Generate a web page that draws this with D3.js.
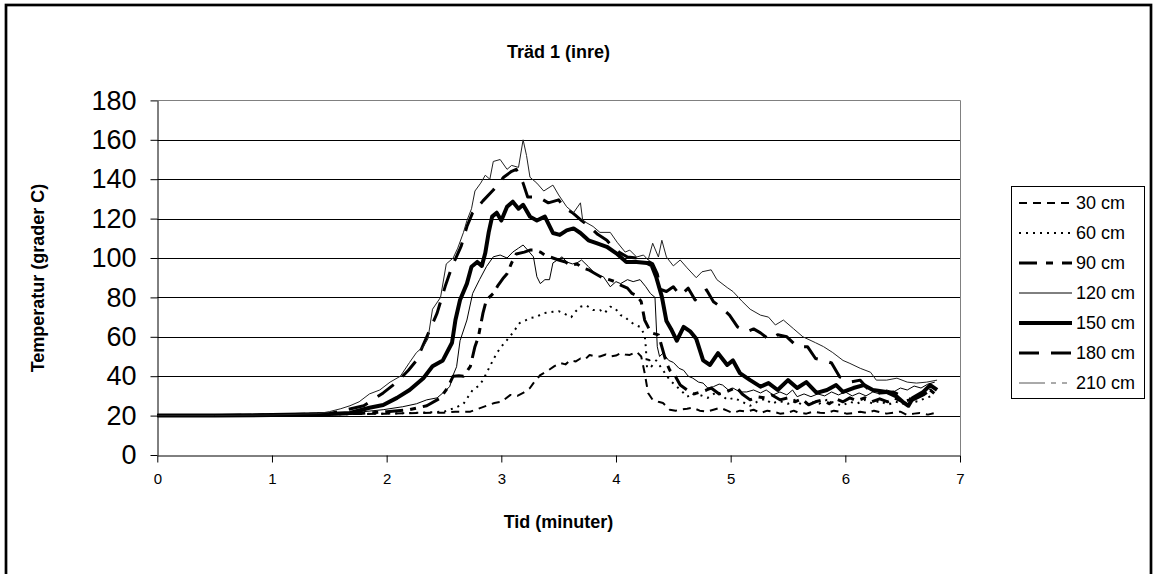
<!DOCTYPE html>
<html>
<head>
<meta charset="utf-8">
<script src="https://cdn.jsdelivr.net/npm/d3@7"></script>
<style>
  html, body { margin: 0; padding: 0; background: #fff; }
  svg { display: block; font-family: "Liberation Sans", Arial, sans-serif; }
</style>
</head>
<body>
<div id="chart"></div>
<script>
// Temperature at seven heights in tree 1.
// Each series is a list of [minutes, degrees C] pairs.
const s30 = [[0,20],[0.5,20],[1,20.3],[1.5,20.6],[2,21],[2.3,21.3],[2.5,21.5],[2.6,22],[2.73,22],[2.8,23.5],[2.87,25],[2.94,26.4],[3.0,27],[3.08,30.5],[3.14,30],[3.19,31.5],[3.25,34],[3.28,36.5],[3.34,40.6],[3.41,43],[3.46,45],[3.51,46.7],[3.56,46],[3.6,48],[3.65,47.5],[3.69,49],[3.73,48.5],[3.77,50.8],[3.82,50],[3.86,50],[3.91,51],[3.95,50],[4.0,50.5],[4.04,51.7],[4.08,51],[4.12,50.8],[4.18,52.4],[4.22,50],[4.25,41.6],[4.28,31.5],[4.32,28],[4.37,27],[4.41,26.4],[4.47,23],[4.52,22.5],[4.56,23],[4.62,23.5],[4.67,24],[4.73,22.5],[4.79,22],[4.85,23],[4.91,24],[4.97,22.5],[5.02,21.3],[5.08,22.5],[5.14,22],[5.2,23],[5.26,21.3],[5.32,22.5],[5.37,22],[5.43,21],[5.49,21.3],[5.55,22.5],[5.6,21.3],[5.66,21],[5.72,22],[5.78,21.5],[5.84,21.3],[5.9,22.5],[5.95,22],[6.01,21],[6.07,21.3],[6.13,22],[6.19,21.3],[6.25,22.5],[6.3,21.8],[6.36,21],[6.42,21.5],[6.48,22],[6.54,20.3],[6.6,21],[6.65,21.3],[6.72,20.5],[6.78,21.3]];

const s60 = [[0,20],[0.5,20],[1,20.3],[1.5,20.6],[2,21],[2.3,21.5],[2.5,22],[2.6,24],[2.67,26],[2.75,33],[2.8,35],[2.84,38],[2.9,45],[2.96,51.7],[3.0,55],[3.05,58.4],[3.1,62],[3.16,67],[3.2,68],[3.25,69.5],[3.3,70],[3.37,72],[3.45,72.7],[3.5,73],[3.54,72],[3.61,70],[3.65,73],[3.69,75.3],[3.74,76],[3.8,73.6],[3.86,73.6],[3.9,72],[3.95,75.3],[3.99,74.6],[4.04,71],[4.08,70],[4.12,67.7],[4.17,66],[4.21,65],[4.25,61],[4.26,55],[4.27,45],[4.28,50],[4.31,45],[4.35,48],[4.41,43],[4.47,38],[4.53,34.7],[4.58,32],[4.62,29.6],[4.68,31],[4.73,30.5],[4.8,29],[4.88,32],[4.93,30],[4.97,28],[5.03,29],[5.1,27],[5.17,25],[5.23,27],[5.3,28.5],[5.36,26],[5.42,27.5],[5.5,26],[5.56,28],[5.62,25.5],[5.7,27],[5.77,26],[5.84,28],[5.9,26.5],[5.97,25],[6.04,27],[6.1,26],[6.17,28],[6.24,26],[6.3,27.5],[6.37,25.5],[6.44,27],[6.5,26],[6.57,28],[6.63,27],[6.7,29],[6.76,30]];

const s90 = [[0,20],[0.5,20],[1,20.3],[1.5,20.8],[1.8,21.2],[2,22],[2.2,23],[2.35,25],[2.47,29],[2.53,34],[2.58,40],[2.63,40.2],[2.67,40],[2.73,45],[2.77,55],[2.8,60],[2.84,72],[2.87,78.7],[2.93,82],[2.97,86],[3.02,90],[3.05,92],[3.09,97.5],[3.13,102],[3.2,103],[3.25,104],[3.3,104],[3.34,103],[3.38,101.5],[3.45,100],[3.5,99],[3.56,98],[3.6,96.4],[3.66,97],[3.71,95],[3.76,94],[3.82,92],[3.88,90],[3.94,89],[3.99,88],[4.05,86],[4.1,84.7],[4.14,82],[4.18,81],[4.22,77.8],[4.25,68.5],[4.28,65],[4.31,62],[4.37,61],[4.39,57],[4.44,46.7],[4.47,43],[4.52,39.7],[4.56,35.5],[4.62,33],[4.68,31],[4.74,32],[4.79,33],[4.83,34],[4.9,31],[4.96,32],[5.0,33],[5.05,34.5],[5.1,31],[5.17,28],[5.24,29.5],[5.3,29],[5.36,30.5],[5.43,28],[5.5,29],[5.56,27],[5.62,28.5],[5.68,25.5],[5.74,27],[5.8,28],[5.86,26],[5.92,28.5],[5.98,27],[6.04,29],[6.1,27.5],[6.17,29],[6.23,27],[6.3,28.5],[6.37,27],[6.43,29],[6.5,27],[6.56,28],[6.62,29.5],[6.68,31],[6.74,33],[6.78,31]];

const s120 = [[0,20],[0.5,20],[1,20.3],[1.5,20.8],[1.8,22],[1.97,23],[2.14,24.5],[2.26,26],[2.35,28],[2.44,29],[2.49,31.5],[2.55,34.7],[2.58,40.6],[2.61,44.8],[2.64,58],[2.7,68.5],[2.75,82],[2.81,89],[2.87,95.6],[2.93,100.6],[2.99,101.5],[3.05,100],[3.1,103],[3.15,105],[3.19,106.6],[3.23,104],[3.28,100.6],[3.31,90.5],[3.34,87],[3.38,89],[3.42,89],[3.45,97.5],[3.49,99],[3.53,100.6],[3.57,98],[3.62,97],[3.66,97.5],[3.7,99],[3.76,95.6],[3.83,91.4],[3.89,90.5],[3.95,85.4],[4.0,88],[4.04,87],[4.1,89],[4.15,88],[4.21,89],[4.26,85.4],[4.3,82],[4.34,80],[4.36,55],[4.38,50],[4.41,51.7],[4.46,48],[4.5,47],[4.55,44],[4.59,43],[4.63,40],[4.67,39],[4.72,37],[4.76,36.5],[4.8,34],[4.85,34.7],[4.9,36],[4.93,35.5],[4.98,33],[5.02,34],[5.08,32],[5.14,32],[5.2,33],[5.26,31.5],[5.31,33],[5.37,30.5],[5.43,32],[5.49,30.5],[5.54,33],[5.58,29.6],[5.64,31],[5.7,29.6],[5.76,31],[5.82,30],[5.88,32],[5.94,30.5],[6.0,32],[6.06,30],[6.12,31.5],[6.18,30],[6.24,32],[6.3,31],[6.36,33],[6.42,32],[6.48,34],[6.54,33],[6.6,35],[6.66,34],[6.72,36],[6.78,37]];

const s150 = [[0,20],[0.5,20],[1,20.3],[1.5,20.8],[1.68,21.3],[1.85,24],[1.97,25.4],[2.09,29],[2.2,33],[2.32,39],[2.4,45],[2.49,48],[2.57,57],[2.6,68.5],[2.64,78.7],[2.7,87],[2.74,95.6],[2.79,98],[2.83,96],[2.86,102.5],[2.89,113],[2.92,121],[2.96,123],[3.0,119],[3.05,126],[3.1,128.6],[3.15,125],[3.19,127],[3.25,121],[3.31,119],[3.38,121],[3.45,112.7],[3.51,111.7],[3.57,114],[3.63,115],[3.69,112.7],[3.76,109],[3.83,107.6],[3.92,105.7],[4.0,102.5],[4.09,98],[4.18,98],[4.27,97.5],[4.31,96.4],[4.35,90.5],[4.4,80.4],[4.44,68],[4.48,64],[4.53,58],[4.59,65],[4.65,62.6],[4.7,59],[4.76,48],[4.82,45.7],[4.89,51.7],[4.97,45.7],[5.02,48],[5.08,41.6],[5.17,38],[5.26,34.7],[5.33,36.5],[5.41,33],[5.5,38],[5.58,34],[5.66,37],[5.75,31.5],[5.84,33],[5.92,35.5],[5.98,32],[6.07,34],[6.16,35.5],[6.24,33],[6.36,32],[6.45,29.6],[6.5,27],[6.55,25],[6.59,29],[6.68,32],[6.74,35.5],[6.8,33]];

const s180 = [[0,20],[0.5,20],[1,20.3],[1.5,21],[1.8,25],[1.97,31.5],[2.09,37],[2.19,43],[2.26,48],[2.35,60],[2.44,72],[2.51,85.5],[2.57,95.6],[2.65,106],[2.7,116],[2.75,123],[2.84,129],[2.93,134.5],[3.02,141],[3.09,144],[3.13,145],[3.19,138],[3.23,131],[3.32,131],[3.41,128],[3.5,129.5],[3.56,125],[3.62,123],[3.7,119],[3.77,116],[3.84,112],[3.92,109],[3.97,105.6],[4.04,102.5],[4.1,100.5],[4.18,100],[4.26,99],[4.32,97],[4.36,92],[4.39,84],[4.44,83],[4.5,85.4],[4.56,81],[4.63,84.7],[4.69,78.7],[4.74,82],[4.79,83.8],[4.85,77.8],[4.91,75.3],[4.99,71],[5.06,65],[5.14,62.6],[5.2,64],[5.26,62],[5.34,58.4],[5.41,61],[5.49,60],[5.58,55],[5.67,55],[5.74,49],[5.81,48],[5.88,46.7],[5.95,39.7],[6.04,37],[6.13,38],[6.22,32],[6.3,31.5],[6.42,32],[6.5,29.6],[6.59,28],[6.68,30.5],[6.77,34]];

const s210 = [[0,20],[0.5,20],[1,20.3],[1.4,21],[1.5,22],[1.6,23.5],[1.68,25],[1.76,27],[1.85,31],[1.94,33],[2.03,37],[2.12,40],[2.2,47],[2.26,52],[2.32,55],[2.36,59],[2.4,74],[2.47,80],[2.52,97],[2.58,100],[2.62,105],[2.67,113],[2.7,119],[2.74,125],[2.77,134],[2.82,138],[2.86,142],[2.9,140],[2.93,149],[2.99,150],[3.05,145],[3.09,147],[3.15,146],[3.19,160],[3.22,152],[3.25,141],[3.31,138],[3.37,134],[3.45,137],[3.5,132],[3.57,126],[3.63,123],[3.69,128],[3.71,119],[3.8,116],[3.86,113],[3.95,113],[4.01,108],[4.08,103],[4.12,104],[4.18,100.5],[4.24,101.5],[4.28,99],[4.32,107.5],[4.37,100.5],[4.4,109],[4.44,100.5],[4.5,96],[4.56,99],[4.62,95],[4.7,90],[4.75,93],[4.83,94],[4.88,89],[4.97,85],[5.02,83],[5.1,78],[5.17,74],[5.26,71],[5.33,70],[5.39,66],[5.46,68.5],[5.55,64],[5.63,60],[5.74,57],[5.81,55],[5.89,52],[5.98,48],[6.04,46.5],[6.13,44],[6.22,42],[6.27,38],[6.36,38],[6.45,39],[6.54,37],[6.62,36.5],[6.71,37],[6.8,38]];

const seriesNames = ['30 cm', '60 cm', '90 cm', '120 cm', '150 cm', '180 cm', '210 cm'];
const seriesData = [s30, s60, s90, s120, s150, s180, s210];
const xTicks = [0, 1, 2, 3, 4, 5, 6, 7];
const yTicks = [0, 20, 40, 60, 80, 100, 120, 140, 160, 180];

// Excel-like line styles, one per series (plot stroke, legend stroke).
const styles = [
  { color: '#000', width: 2,   dash: '8,6',       legendDash: '8,6' },
  { color: '#000', width: 2,   dash: '2,5',       legendDash: '2,5' },
  { color: '#000', width: 3,   dash: '18,7,6,7',  legendDash: '18,9,7,9' },
  { color: '#000', width: 1,   dash: null,        legendDash: null },
  { color: '#000', width: 4,   dash: null,        legendDash: null },
  { color: '#000', width: 3,   dash: '20,12',     legendDash: '20,12' },
  { color: '#222', width: 1,   dash: null,        legendDash: '26,6,5,6,5,6', legendColor: '#555' }
];

const W = 1155, H = 574;
const plot = { left: 157.3, right: 960, top: 100.4, bottom: 455 };

const svg = d3.select('#chart').append('svg').attr('width', W).attr('height', H);

// Thick outer chart frame (bottom edge falls outside the picture).
svg.append('rect')
  .attr('x', 6).attr('y', 5).attr('width', 1145).attr('height', 640)
  .attr('fill', '#fff').attr('stroke', '#000').attr('stroke-width', 2.7);

const x = d3.scaleLinear().domain([0, 7]).range([plot.left, plot.right]);
const y = d3.scaleLinear().domain([0, 180]).range([plot.bottom, plot.top]);

// Horizontal gridlines
svg.append('g')
  .selectAll('line')
  .data(yTicks.filter(d => d > 0 && d < 180))
  .enter().append('line')
  .attr('x1', plot.left).attr('x2', plot.right)
  .attr('y1', d => Math.round(y(d)) + 0.5).attr('y2', d => Math.round(y(d)) + 0.5)
  .attr('stroke', '#000').attr('stroke-width', 1);

// Gray plot-area border on top and right
svg.append('path')
  .attr('d', `M${plot.left},${Math.round(plot.top) + 0.5}H${Math.round(plot.right) + 0.5}V${plot.bottom}`)
  .attr('fill', 'none').attr('stroke', '#808080').attr('stroke-width', 1);

// Axes
const yAxis = svg.append('g')
  .attr('transform', `translate(${Math.round(plot.left) + 0.5},0)`)
  .call(d3.axisLeft(y).tickValues(yTicks).tickSize(7).tickPadding(14).tickSizeOuter(0));
yAxis.selectAll('text').attr('font-size', 27).attr('font-family', '"Liberation Sans", Arial, sans-serif').attr('fill', '#000');

const xAxis = svg.append('g')
  .attr('transform', `translate(0,${Math.round(plot.bottom) + 0.5})`)
  .call(d3.axisBottom(x).tickValues(xTicks).tickFormat(d3.format('d')).tickSize(7).tickPadding(11).tickSizeOuter(0));
xAxis.selectAll('text').attr('font-size', 15).attr('font-family', '"Liberation Sans", Arial, sans-serif').attr('fill', '#000');

[yAxis, xAxis].forEach(a => {
  a.select('.domain').attr('stroke', '#000');
  a.selectAll('.tick line').attr('stroke', '#000');
});

// Data lines
const line = d3.line().x(d => x(d[0])).y(d => y(d[1]));
svg.append('g')
  .selectAll('path')
  .data(seriesData)
  .enter().append('path')
  .attr('d', line)
  .attr('fill', 'none')
  .attr('stroke', (d, i) => styles[i].color)
  .attr('stroke-width', (d, i) => styles[i].width)
  .attr('stroke-dasharray', (d, i) => styles[i].dash)
  .attr('stroke-linejoin', 'round');

// Titles
svg.append('text')
  .attr('x', 558.5).attr('y', 58)
  .attr('text-anchor', 'middle').attr('font-size', 18).attr('font-weight', 'bold')
  .text('Träd 1 (inre)');

svg.append('text')
  .attr('x', 558.5).attr('y', 528)
  .attr('text-anchor', 'middle').attr('font-size', 18).attr('font-weight', 'bold')
  .text('Tid (minuter)');

svg.append('text')
  .attr('transform', 'translate(44,278) rotate(-90)')
  .attr('text-anchor', 'middle').attr('font-size', 18).attr('font-weight', 'bold')
  .text('Temperatur (grader C)');

// Legend
const legend = svg.append('g');
legend.append('rect')
  .attr('x', 1011.5).attr('y', 186.5).attr('width', 133).attr('height', 212)
  .attr('fill', '#fff').attr('stroke', '#000').attr('stroke-width', 1);

const items = legend.selectAll('g.item')
  .data(seriesNames)
  .enter().append('g')
  .attr('class', 'item')
  .attr('transform', (d, i) => `translate(0,${203 + i * 30})`);

items.append('line')
  .attr('x1', 1019).attr('x2', 1072).attr('y1', 0).attr('y2', 0)
  .attr('stroke', (d, i) => styles[i].legendColor || styles[i].color)
  .attr('stroke-width', (d, i) => styles[i].width)
  .attr('stroke-dasharray', (d, i) => styles[i].legendDash);

items.append('text')
  .attr('x', 1076).attr('y', 0).attr('dy', '0.35em')
  .attr('font-size', 18)
  .text(d => d);
</script>
</body>
</html>
